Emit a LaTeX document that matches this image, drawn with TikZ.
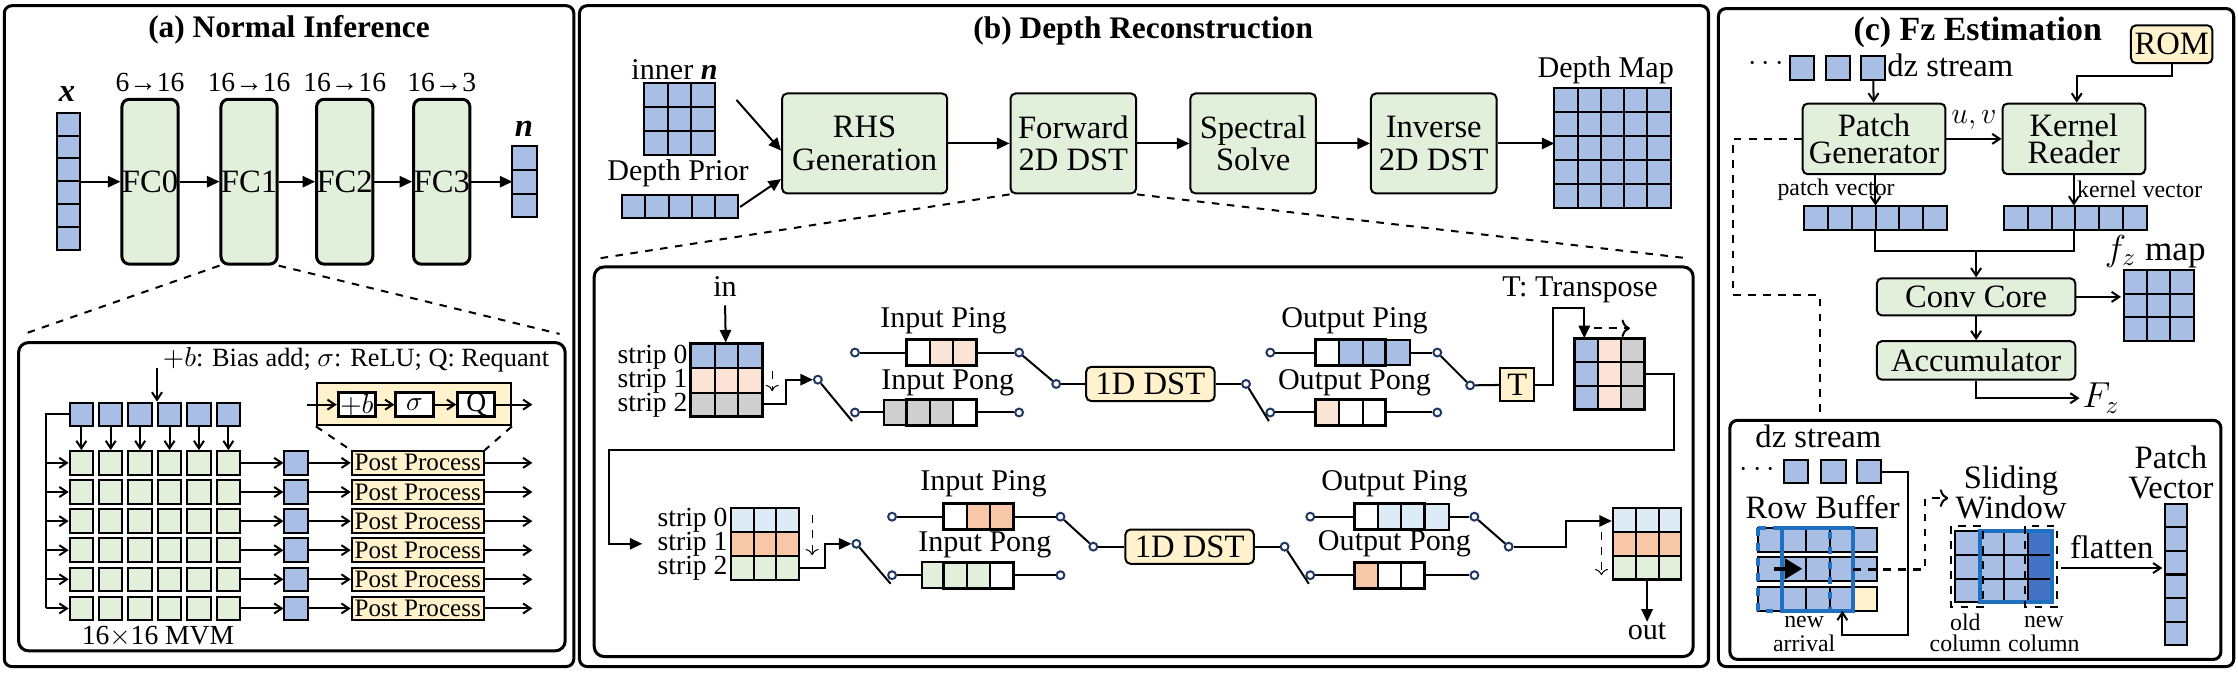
\documentclass[tikz,border=0pt]{standalone}
\usepackage{fontspec}
\setmainfont{Liberation Serif}
\usepackage{amsmath}
\usetikzlibrary{positioning,calc,arrows.meta}
\definecolor{cblue}{HTML}{A9BEE4}
\definecolor{cdblue}{HTML}{4472C4}
\definecolor{cgreen}{HTML}{E2EFDA}
\definecolor{cyell}{HTML}{FFF2CC}
\definecolor{cpeach}{HTML}{FBE3D6}
\definecolor{cgray}{HTML}{CFCFCF}
\definecolor{clblue}{HTML}{DDEBF7}
\definecolor{csalm}{HTML}{F7C7A7}
\definecolor{lblue}{HTML}{1F70C1}
\definecolor{navy}{HTML}{1F3864}
\newcommand{\px}{0.2mm}
\newcommand{\fs}[1]{\fontsize{#1}{#1}\selectfont}
% buffer of three cells: name, left x, centre y, colours
\newcommand{\buf}[4]{%
  \foreach \c [count=\k from 0] in {#4}
    \draw[thick,fill=\c] ({#2+\k*16.3},{#3-9}) rectangle ++(16.3,18);
  \node[draw,very thick,minimum width=48.9*\px,minimum height=18*\px,inner sep=0pt] (#1) at ({#2+24.45},#3) {};}
\begin{document}
\begin{tikzpicture}[x=0.2mm,y=-0.2mm,
  arr/.style={-{Straight Barb[length=3pt,width=4pt]},thick},
  arrT/.style={-{Triangle[length=5pt,width=4.5pt]},thick},
  panel/.style={draw,very thick,rounded corners=3pt},
  title/.style={font=\fs{12.5}\bfseries},
  fc/.style={draw,very thick,rounded corners=3pt,fill=cgreen,minimum width=38.6*\px,minimum height=115.5*\px,inner sep=0pt,font=\fs{13}},
  box/.style={draw,thick,rounded corners=2pt,fill=cgreen,align=center,inner sep=0pt},
  cellb/.style={draw,thick,fill=cblue,minimum width=16.4*\px,minimum height=16.5*\px,inner sep=0pt},
  cellg/.style={draw,thick,fill=cgreen,minimum width=16.4*\px,minimum height=16.5*\px,inner sep=0pt},
  pp/.style={draw,thick,fill=cyell,minimum width=92.5*\px,minimum height=16.5*\px,inner sep=0pt,font=\fs{10}},
  sw/.style={circle,draw=navy,thick,fill=white,inner sep=0pt,minimum size=5.5*\px},
  lbl/.style={font=\fs{12},inner sep=0pt},
  strip/.style={font=\fs{11},inner sep=0pt,anchor=east},
  small/.style={font=\fs{9.5},inner sep=0pt},
  yb/.style={draw,thick,rounded corners=2pt,fill=cyell,inner sep=0pt}]
\useasboundingbox (0,0) rectangle (1568,471);

%%%%%%%% (a) Normal Inference
\draw[panel] (3,4) rectangle (402,467);
\node[title] (ta) at (202.5,21) {(a) Normal Inference};
\node[font=\fs{13}\bfseries\itshape] (xl) at (47,66) {x};
\foreach \i in {0,...,5} \draw[thick,fill=cblue] (39.6,79+16*\i) rectangle ++(16.4,16);
\coordinate (xv) at (56,127.3);
\foreach \k/\x/\a/\b in {0/105.1/6/16,1/174.5/16/16,2/241.5/16/16,3/309.5/16/3}{
  \node[fc] (fc\k) at (\x,127.3) {FC\k};
  \node[font=\fs{11},inner sep=0pt] (dim\k) at (\x,58) {\a→\b};
}
\node[font=\fs{13}\bfseries\itshape] (nl) at (367,90) {n};
\foreach \i in {0,1,2} \draw[thick,fill=cblue] (359,102.6+16.5*\i) rectangle ++(17,16.5);
\coordinate (nv) at (359,127.3);
\draw[arrT] (xv) -- (fc0);
\draw[arrT] (fc0) -- (fc1);
\draw[arrT] (fc1) -- (fc2);
\draw[arrT] (fc2) -- (fc3);
\draw[arrT] (fc3) -- (nv);

\node[draw,very thick,rounded corners=4pt,minimum width=383*\px,minimum height=216*\px] (ina) at (204.5,348) {};
\draw[dashed,thick] (fc1.south west) -- ([xshift=1mm,yshift=1mm]ina.north west);
\draw[dashed,thick] (fc1.south east) -- ([xshift=-1mm,yshift=1mm]ina.north east);
\node[font=\fs{10.5},anchor=east] (leg) at (391,252) {$+b$: Bias add; $\sigma$: ReLU; Q: Requant};

% post process detail
\node[draw,thick,fill=cyell,minimum width=136*\px,minimum height=30*\px] (pph) at (290,283) {};
\node[draw,very thick,fill=white,minimum width=26*\px,minimum height=17*\px,inner sep=0pt,font=\fs{11}] (pb) at (250,283.5) {$+b$};
\node[draw,very thick,fill=white,minimum width=26*\px,minimum height=17*\px,inner sep=0pt,font=\fs{11}] (ps) at (290.4,283.5) {$\sigma$};
\node[draw,very thick,fill=white,minimum width=26*\px,minimum height=17*\px,inner sep=0pt,font=\fs{11}] (pq) at (333.7,283.5) {Q};
\coordinate (ppin) at (215,283.5);
\coordinate (ppout) at (373,283.5);
\draw[arr] (ppin) -- (pb);
\draw[arr] (pb) -- (ps);
\draw[arr] (ps) -- (pq);
\draw[arr] (pq) -- (ppout);

% MVM array
\coordinate (vin) at (110,258);
\coordinate (bus) at (32,290.3);
\foreach \j in {0,...,5}{
  \node[cellb] (v\j) at (57+\j*20.6,290.3) {};
  \foreach \i in {0,...,5} \node[cellg] (g\i\j) at (57+\j*20.6,324.3+\i*20.4) {};
  \draw[arr] (v\j) -- (g0\j);
}
\draw[arr] (vin) -- (vin |- v3.north);
\draw[thick] (v0.west) -- (bus) -- (bus |- g50);
\foreach \i in {0,...,5}{
  \node[cellb] (acc\i) at (207.5,324.3+\i*20.4) {};
  \node[pp] (pp\i) at (292.7,324.3+\i*20.4) {Post Process};
  \coordinate (o\i) at (373,324.3+\i*20.4);
  \draw[arr] (bus |- g\i0) -- (g\i0);
  \draw[arr] (g\i5) -- (acc\i);
  \draw[arr] (acc\i) -- (pp\i);
  \draw[arr] (pp\i) -- (o\i);
}
\draw[dashed,thick] (pph.south west) -- (pp0.north west);
\draw[dashed,thick] (pph.south east) -- (pp0.north east);
\node[font=\fs{11}] (mvm) at (110.7,446) {16$\times$16 MVM};

%%%%%%%% (b) Depth Reconstruction
\draw[panel] (406,4) rectangle (1197,467);
\node[title] (tb) at (801,22) {(b) Depth Reconstruction};
\node[lbl] (innl) at (472.6,49) {inner \textbf{\textit{n}}};
\foreach \r in {0,1,2} \foreach \k in {0,1,2}
  \draw[thick,fill=cblue] (451.2+\k*16.5,58.4+\r*16.7) rectangle ++(16.5,16.7);
\node[lbl] (dpl) at (475,121.5) {Depth Prior};
\foreach \k in {0,...,4} \draw[thick,fill=cblue] (436+\k*16.2,136.7) rectangle ++(16.2,16.3);
\coordinate (inng) at (516,70);
\coordinate (dpv) at (518.5,145);
\node[box,minimum width=115.7*\px,minimum height=70*\px,font=\fs{13}] (rhs) at (605.8,100.5) {RHS\\Generation};
\node[box,minimum width=88*\px,minimum height=70*\px,font=\fs{13}] (fwd) at (752,100.5) {Forward\\2D DST};
\node[box,minimum width=88*\px,minimum height=70*\px,font=\fs{13}] (spec) at (878,100.5) {Spectral\\Solve};
\node[box,minimum width=88*\px,minimum height=70*\px,font=\fs{13}] (inv) at (1004.5,100.5) {Inverse\\2D DST};
\node[lbl] (dml) at (1125,49) {Depth Map};
\foreach \r in {0,...,4} \foreach \k in {0,...,4}
  \draw[thick,fill=cblue] (1089+\k*16.3,62+\r*16.8) rectangle ++(16.3,16.8);
\coordinate (dmap) at (1089,100.5);
\draw[arrT] (inng) -- ([yshift=-1mm]rhs.west);
\draw[arrT] (dpv) -- ([yshift=-5mm]rhs.west);
\draw[arrT] (rhs) -- (fwd);
\draw[arrT] (fwd) -- (spec);
\draw[arrT] (spec) -- (inv);
\draw[arrT] (inv) -- (dmap);

\node[draw,very thick,rounded corners=4pt,minimum width=770*\px,minimum height=273*\px] (inb) at (801.3,323.5) {};
\draw[dashed,thick] (fwd.south west) -- ([xshift=1mm,yshift=1mm]inb.north west);
\draw[dashed,thick] (fwd.south east) -- ([xshift=-1mm,yshift=1mm]inb.north east);

% row pass
\node[lbl] (inl) at (508,201) {in};
\coordinate (inp) at (508,214);
\foreach \c [count=\r from 0] in {cblue,cpeach,cgray} \foreach \k in {0,1,2}
  \draw[thick,fill=\c] (484+\k*16.7,241+\r*17) rectangle ++(16.7,17);
\node[draw,very thick,minimum width=50*\px,minimum height=51*\px,inner sep=0pt] (sg1) at (509,266.5) {};
\foreach \r in {0,1,2} \node[strip] (s1l\r) at (482,250+\r*17) {strip \r};
\draw[arrT] (inp) -- (sg1);
\draw[->,dashed] (541,260) -- (541,274);
\node[sw] (r1sw) at (573,266) {};
\node[sw] (r1ipl) at (599,247) {};
\node[sw] (r1pql) at (599,289) {};
\node[sw] (r1ipr) at (714,247) {};
\node[sw] (r1pqr) at (714,289) {};
\node[sw] (r1di) at (740,269) {};
\node[sw] (r1do) at (873,269) {};
\node[sw] (r1opl) at (890,247) {};
\node[sw] (r1oql) at (890,289) {};
\node[sw] (r1opr) at (1007,247) {};
\node[sw] (r1oqr) at (1007,289) {};
\node[sw] (r1ti) at (1030,270) {};
\coordinate (s1o) at (534,283);
\draw[arrT] (s1o) -- (551,283) -- (551,266) -- (r1sw);
\draw[thick] (r1sw) -- ($(r1pql)+(-2,6)$);
\draw[thick] (r1ipl) -- (r1ipr);
\draw[thick] (r1pql) -- (r1pqr);
\draw[thick] (r1ipr) -- (r1di);
\draw[thick] (r1do) -- ($(r1oql)+(-1,6)$);
\draw[thick] (r1opl) -- (r1opr);
\draw[thick] (r1oql) -- (r1oqr);
\draw[thick] (r1opr) -- (r1ti);
\node[lbl] (r1ipt) at (661,225) {Input Ping};
\node[lbl] (r1pqt) at (664,268) {Input Pong};
\node[lbl] (r1opt) at (949,225) {Output Ping};
\node[lbl] (r1oqt) at (949,268) {Output Pong};
\buf{r1ib}{635}{247}{white,cpeach,cpeach}
\draw[thick,fill=cgray] (619,280) rectangle (635,298);
\buf{r1pb}{635}{289}{cgray,cgray,white}
\buf{r1ob}{922}{247}{white,cblue,cblue}
\draw[thick,fill=cblue] (971,238) rectangle (988,256);
\draw[very thick] (922,238) rectangle (971,256);
\buf{r1qb}{922}{289}{cpeach,white,white}
\node[yb,minimum width=90*\px,minimum height=24*\px,font=\fs{13}] (dst1) at (806,269) {1D DST};
\draw[thick] (r1di) -- (dst1) -- (r1do);
\node[yb,rounded corners=0pt,minimum width=24*\px,minimum height=23*\px,font=\fs{13}] (tbox) at (1063,269.5) {T};
\draw[thick] (r1ti) -- (tbox);
\node[lbl] (tl) at (1107,203) {T: Transpose};
\foreach \c [count=\k from 0] in {cblue,cpeach,cgray} \foreach \r in {0,1,2}
  \draw[thick,fill=\c] (1103+\k*16.3,237+\r*16.7) rectangle ++(16.3,16.7);
\node[draw,very thick,minimum width=49*\px,minimum height=50*\px,inner sep=0pt] (tg) at (1127.5,262) {};
\draw[arrT] (tbox.east) -- (1088,269.5) -- (1088,216) -- (1110,216) -- (1110,237);
\draw[->,dashed,thick] (1117,230) -- (1142,230);

% column pass
\coordinate (s2i) at (450,381);
\draw[arrT] (tg.east) -- (1173,262) -- (1173,315) -- (427,315) -- (427,381) -- (s2i);
\foreach \c [count=\r from 0] in {clblue,csalm,cgreen} \foreach \k in {0,1,2}
  \draw[thick,fill=\c] (512+\k*16,356+\r*16.7) rectangle ++(16,16.7);
\foreach \r in {0,1,2} \node[strip] (s2l\r) at (510,364.5+\r*17) {strip \r};
\draw[->,dashed] (569,361) -- (569,389);
\node[sw] (r2sw) at (600,381) {};
\node[sw] (r2ipl) at (625,362) {};
\node[sw] (r2pql) at (625,403) {};
\node[sw] (r2ipr) at (743,362) {};
\node[sw] (r2pqr) at (743,403) {};
\node[sw] (r2di) at (766,383) {};
\node[sw] (r2do) at (900,383) {};
\node[sw] (r2opl) at (918,362) {};
\node[sw] (r2oql) at (918,403) {};
\node[sw] (r2opr) at (1033,362) {};
\node[sw] (r2oqr) at (1033,403) {};
\node[sw] (r2oc) at (1057,383) {};
\coordinate (s2o) at (560,398);
\draw[arrT] (s2o) -- (578,398) -- (578,381) -- (r2sw);
\draw[thick] (r2sw) -- ($(r2pql)+(-1,6)$);
\draw[thick] (r2ipl) -- (r2ipr);
\draw[thick] (r2pql) -- (r2pqr);
\draw[thick] (r2ipr) -- (r2di);
\draw[thick] (r2do) -- ($(r2oql)+(-1,6)$);
\draw[thick] (r2opl) -- (r2opr);
\draw[thick] (r2oql) -- (r2oqr);
\draw[thick] (r2opr) -- (r2oc);
\node[lbl] (r2ipt) at (689,339) {Input Ping};
\node[lbl] (r2pqt) at (690,382) {Input Pong};
\node[lbl] (r2opt) at (977,339) {Output Ping};
\node[lbl] (r2oqt) at (977,381) {Output Pong};
\buf{r2ib}{661}{362}{white,csalm,csalm}
\draw[thick,fill=cgreen] (646,394) rectangle (661,412);
\buf{r2pb}{661}{403}{cgreen,cgreen,white}
\buf{r2ob}{949}{362}{white,clblue,clblue}
\draw[thick,fill=clblue] (998,353) rectangle (1015,371);
\draw[very thick] (949,353) rectangle (998,371);
\buf{r2qb}{949}{403}{csalm,white,white}
\node[yb,minimum width=90*\px,minimum height=24*\px,font=\fs{13}] (dst2) at (833.5,383) {1D DST};
\draw[thick] (r2di) -- (dst2) -- (r2do);
\foreach \c [count=\r from 0] in {clblue,csalm,cgreen} \foreach \k in {0,1,2}
  \draw[thick,fill=\c] (1130+\k*16,356+\r*16.7) rectangle ++(16,16.7);
\node[draw,thick,minimum width=48*\px,minimum height=50*\px,inner sep=0pt] (og) at (1154,381) {};
\draw[arrT] (r2oc) -- (1097,383) -- (1097,365) -- (og.west |- 0,365);
\draw[->,dashed] (1122,373) -- (1122,403);
\node[lbl] (outl) at (1154,442) {out};
\draw[arrT] (og) -- (outl);

%%%%%%%% (c) Fz Estimation
\draw[panel] (1204,6) rectangle (1565,467);
\node[title,font=\fs{13.5}\bfseries] (tc) at (1385.6,23) {(c) Fz Estimation};
\node[yb,minimum width=57*\px,minimum height=26.5*\px,font=\fs{13}] (rom) at (1521.5,31) {ROM};
\node[font=\fs{12}] (dots1) at (1239,45) {$\cdots$};
\foreach \x in {1254,1279,1304} \draw[thick,fill=cblue] (\x,39) rectangle ++(17,17);
\node[font=\fs{13},anchor=west,inner sep=0pt] (dzl) at (1322,46) {dz stream};
\coordinate (dzs) at (1312.5,56);
\node[box,minimum width=100*\px,minimum height=49.5*\px,font=\fs{13},inner sep=0pt] (pg) at (1313,97.3) {Patch\\[-2pt]Generator};
\node[box,minimum width=100*\px,minimum height=49.5*\px,font=\fs{13},inner sep=0pt] (kr) at (1453,97.3) {Kernel\\[-2pt]Reader};
\draw[arr] (dzs) -- (pg);
\draw[arr] (pg) -- node[above,font=\fs{13}] {$u,v$} (kr);
\draw[arr] (rom.south) |- (1455,53) -- (kr.north -| 1455,0);
\node[small,anchor=west] (pvl) at (1245,133) {patch vector};
\node[small,anchor=west] (kvl) at (1455,133) {kernel vector};
\foreach \k in {0,...,5}{
  \draw[thick,fill=cblue] (1264+\k*16.7,144) rectangle ++(16.7,17);
  \draw[thick,fill=cblue] (1404+\k*16.7,144) rectangle ++(16.7,17);
}
\coordinate (pvec) at (1314,144);
\coordinate (kvec) at (1453,144);
\draw[arr] (pg.south -| pvec) -- (pvec);
\draw[arr] (kr.south -| kvec) -- (kvec);
\node[box,minimum width=139*\px,minimum height=26*\px,font=\fs{13}] (conv) at (1384.5,208) {Conv Core};
\node[box,minimum width=139*\px,minimum height=27*\px,font=\fs{13}] (accu) at (1384.5,252.5) {Accumulator};
\draw[thick] (1314,161) -- (1314,176) -- (1453,176) -- (1453,161);
\coordinate (mrg) at (1384.5,176);
\draw[arr] (mrg) -- (conv);
\draw[arr] (conv) -- (accu);
\node[font=\fs{14}] (fzl) at (1510,176) {$f_z$ map};
\foreach \r in {0,1,2} \foreach \k in {0,1,2}
  \draw[thick,fill=cblue] (1488+\k*16.3,189+\r*16.7) rectangle ++(16.3,16.7);
\coordinate (fzm) at (1486,208);
\draw[arr] (conv) -- (fzm);
\node[font=\fs{14},anchor=west,inner sep=1pt] (Fz) at (1457,279) {$F_z$};
\draw[arr] (accu) |- (Fz);
\draw[dashed,thick] (pg.west) -- (1214,97.3) -- (1214,207) -- (1275,207) -- (1275,294);

% patch generator detail
\draw[very thick,rounded corners=3pt] (1212,294.5) rectangle (1556,462);
\node[font=\fs{13},inner sep=0pt] (dz2) at (1274,306) {dz stream};
\node[font=\fs{12},inner sep=0pt] (dots2) at (1233,329) {$\cdots$};
\foreach \x in {1250,1276,1301} \draw[thick,fill=cblue] (\x,322.6) rectangle ++(17,16);
\node[font=\fs{13},inner sep=0pt] (rbl) at (1277,355) {Row Buffer};
\foreach \y in {370,390,411} \foreach \k in {0,...,4}
  \draw[thick,fill=cblue] (1232+\k*16.6,\y) rectangle ++(16.6,17);
\draw[thick,fill=cyell] (1298.4,411) rectangle ++(16.6,17);
\draw[line width=1.6pt,lblue,dashed] (1232,370) rectangle (1282,428);
\draw[line width=1.6pt,lblue] (1248.6,370) rectangle (1298.4,428);
\draw[-{Triangle},line width=1.5pt] (1242.8,398.5) -- (1262.7,398.5);
\node[small] (nal1) at (1264,436) {new};
\node[small] (nal2) at (1264,451) {arrival};
\coordinate (rbin) at (1290.8,428);
\draw[arr] (1318,330.6) -- (1337,330.6) -- (1337,445) -- (1290.8,445) -- (rbin);
\node[font=\fs{13},align=center,inner sep=0pt] (swl) at (1409,345) {Sliding\\[-1pt]Window};
\draw[->,dashed,thick] (1298.4,399) -- (1349,399) -- (1349,349) -- (1365,349);
\foreach \r in {0,1,2} \foreach \k in {0,...,3}
  \draw[thick,fill=cblue] (1370+\k*17,372+\r*16.7) rectangle ++(17,16.7);
\foreach \r in {0,1,2} \draw[thick,fill=cdblue] (1421,372+\r*16.7) rectangle ++(17,16.7);
\draw[line width=1.6pt,lblue] (1387,372) rectangle (1438,422);
\draw[dashed,thick] (1367,368.6) rectangle (1389.5,425);
\draw[dashed,thick] (1418.6,368.6) rectangle (1441,425);
\node[small] (oc1) at (1377,436) {old};
\node[small] (oc2) at (1377,451) {column};
\node[small] (nc1) at (1432,436) {new};
\node[small] (nc2) at (1432,451) {column};
\node[font=\fs{13},align=center,inner sep=0pt] (pvt) at (1521,331) {Patch\\[-1pt]Vector};
\foreach \k in {0,...,5} \draw[thick,fill=cblue] (1516.5,353+\k*16.5) rectangle ++(15.5,16.5);
\coordinate (swo) at (1444,398);
\coordinate (pvi) at (1515,398);
\draw[arr] (swo) -- node[above,font=\fs{13}] {flatten} (pvi);
\end{tikzpicture}
\end{document}
